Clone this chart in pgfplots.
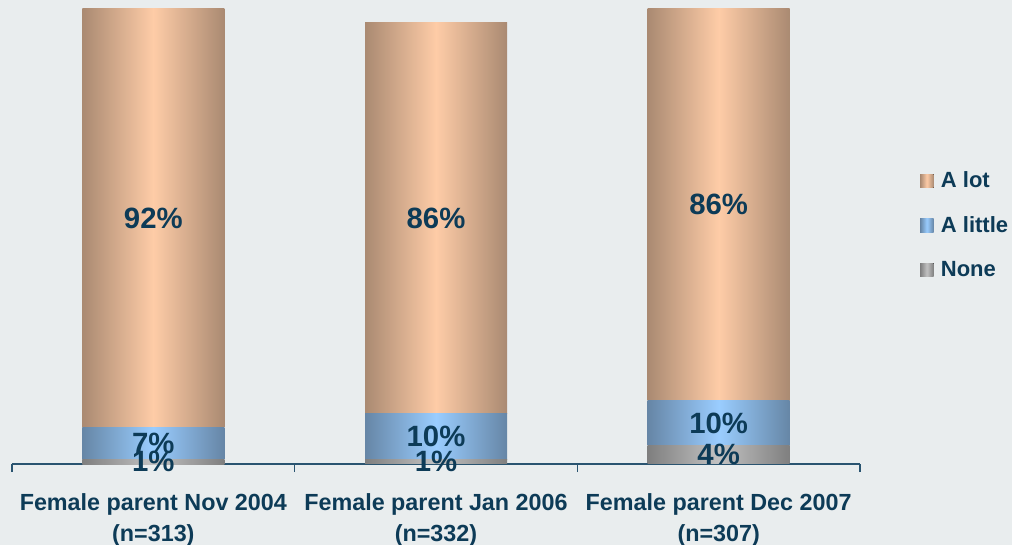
\documentclass[border=0pt]{standalone}
\usepackage{pgfplots}
\pgfplotsset{compat=1.18}
\usepackage{fontspec}
\setmainfont{Liberation Sans}

\definecolor{bgc}{HTML}{E9EDEE}
\definecolor{navy}{HTML}{0D3B57}
\definecolor{axc}{HTML}{2A5470}
\definecolor{lotE}{HTML}{AA8A72}
\definecolor{lotM}{HTML}{FECCA7}
\definecolor{litE}{HTML}{6686A6}
\definecolor{litM}{HTML}{9ACDFF}
\definecolor{nonE}{HTML}{7F7F7F}
\definecolor{nonM}{HTML}{C2C2C2}

\pgfplotsset{
  barbase/.style={
    at={(0pt,0pt)}, anchor=south west,
    scale only axis, width=636pt, height=341.25pt,
    ybar stacked, bar width=106.5pt,
    xmin=-0.5, xmax=2.5, ymin=0, ymax=100,
    clip=false,
    /pgf/number format/assume math mode=true,
    point meta=rawy,
    nodes near coords={\pgfmathprintnumber{\pgfplotspointmeta}\%},
    every node near coord/.append style={anchor=center,
      font=\fontsize{22}{22}\selectfont\bfseries, text=navy},
  },
  nonS/.style={draw=none, left color=nonE, right color=nonE, middle color=nonM},
  litS/.style={draw=none, left color=litE, right color=litE, middle color=litM},
  lotS/.style={draw=none, left color=lotE, right color=lotE, middle color=lotM},
}

\begin{document}
\begin{tikzpicture}
% background, 1px = 0.75pt
\fill[bgc] (-9pt,-60.75pt) rectangle (750pt,348pt);

% category 1 with axis line, labels and legend
\begin{axis}[
  barbase,
  axis y line=none, axis x line*=bottom,
  x axis line style={draw=axc, line width=1.1pt},
  ytick=\empty,
  xtick={0,1,2},
  xticklabels={{Female parent Nov 2004\\(n=313)},{Female parent Jan 2006\\(n=332)},{Female parent Dec 2007\\(n=307)}},
  xticklabel style={align=center, font=\fontsize{17.5}{23}\selectfont\bfseries, text=navy, yshift=-19pt},
  tick align=outside,
  major tick length=0pt,
  tick style={draw=axc, line width=1.1pt},
  extra x ticks={-0.5,0.5,1.5,2.5},
  extra x tick labels={},
  extra x tick style={major tick length=6pt},
  legend style={at={(1.066,0.525)}, anchor=west, draw=none, fill=none,
    font=\fontsize{16.5}{18}\selectfont\bfseries, text=navy, row sep=16pt},
  legend cell align=left,
  reverse legend,
  legend image code/.code={\fill[#1] (0pt,-5pt) rectangle (10pt,5pt); \path (13.5pt,0pt);},
]
\addplot[nonS] coordinates {(0,1)};
\addlegendentry{None}
\addplot[litS] coordinates {(0,7)};
\addlegendentry{A little}
\addplot[lotS] coordinates {(0,92)};
\addlegendentry{A lot}
\end{axis}

% category 2
\begin{axis}[barbase, hide axis]
\addplot[nonS] coordinates {(1,1)};
\addplot[litS] coordinates {(1,10)};
\addplot[lotS] coordinates {(1,86)};
\end{axis}

% category 3
\begin{axis}[barbase, hide axis]
\addplot[nonS] coordinates {(2,4)};
\addplot[litS] coordinates {(2,10)};
\addplot[lotS] coordinates {(2,86)};
\end{axis}
\pgfresetboundingbox
\path[use as bounding box] (-9pt,-60.75pt) rectangle (750pt,348pt);
\end{tikzpicture}
\end{document}
